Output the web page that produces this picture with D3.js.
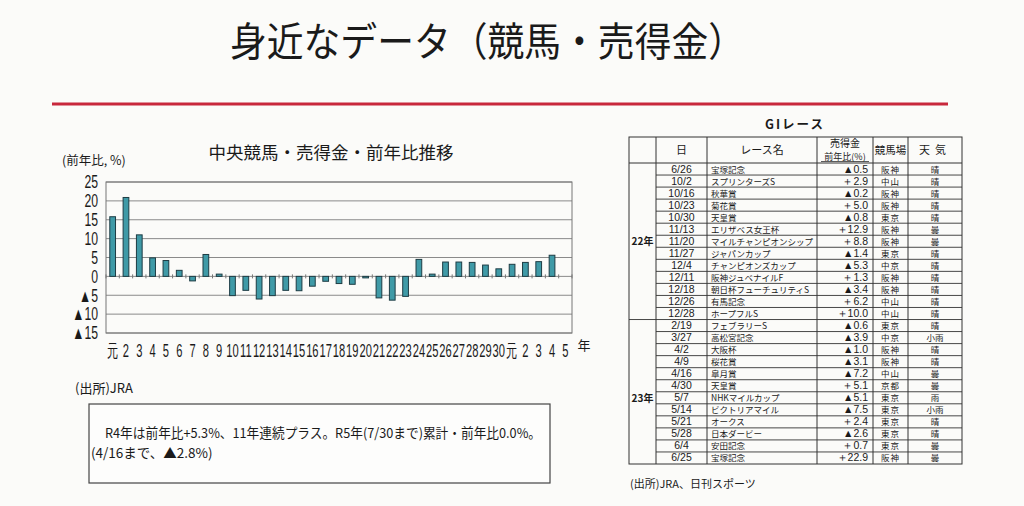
<!DOCTYPE html>
<html>
<head>
<meta charset="utf-8">
<script src="https://cdn.jsdelivr.net/npm/d3@7"></script>
<style>
  body { margin: 0; background: #fbfbf9; }
  svg { display: block; }
  text { font-family: "Noto Sans CJK JP", sans-serif; fill: #1a1a1a; }
  .num { font-family: "Liberation Sans", "DejaVu Sans", sans-serif; }
</style>
</head>
<body>
<svg id="page" width="1024" height="506"></svg>
<script>
// chart data: JRA year-on-year change of sales (%)
var yearLabels = ["元","2","3","4","5","6","7","8","9","10","11","12","13","14","15","16","17","18","19","20",
                  "21","22","23","24","25","26","27","28","29","30","元","2","3","4","5"];
var yoyValues = [15.8, 20.9, 11.0, 4.9, 4.2, 1.6, -1.2, 5.8, 0.6, -5.1, -3.7, -6.0, -5.1, -3.7, -3.8, -2.6, -1.3, -1.9, -2.1, -0.4,
                 -5.7, -6.3, -5.3, 4.5, 0.6, 3.8, 3.8, 3.7, 3.0, 2.0, 3.2, 3.7, 3.9, 5.6, null];
var yTicks = [-15, -10, -5, 0, 5, 10, 15, 20, 25];

// GI race table
var raceGroups = ["22年", "23年"];
var groupSizes = [13, 13];
var raceDates = ["6/26","10/2","10/16","10/23","10/30","11/13","11/20","11/27","12/4","12/11","12/18","12/26","12/28",
                 "2/19","3/27","4/2","4/9","4/16","4/30","5/7","5/14","5/21","5/28","6/4","6/25"];
var raceNames = ["宝塚記念","スプリンターズS","秋華賞","菊花賞","天皇賞","エリザベス女王杯","マイルチャンピオンシップ","ジャパンカップ",
                 "チャンピオンズカップ","阪神ジュベナイルF","朝日杯フューチュリティS","有馬記念","ホープフルS",
                 "フェブラリーS","高松宮記念","大阪杯","桜花賞","皐月賞","天皇賞","NHKマイルカップ","ビクトリアマイル",
                 "オークス","日本ダービー","安田記念","宝塚記念"];
var raceSales = [-0.5, 2.9, -0.2, 5.0, -0.8, 12.9, 8.8, -1.4, -5.3, 1.3, -3.4, 6.2, 10.0,
                 -0.6, -3.9, -1.0, -3.1, -7.2, 5.1, -5.1, -7.5, 2.4, -2.6, 0.7, 22.9];
var raceVenues = ["阪神","中山","阪神","阪神","東京","阪神","阪神","東京","中京","阪神","阪神","中山","中山",
                  "東京","中京","阪神","阪神","中山","京都","東京","東京","東京","東京","東京","阪神"];
var raceWeather = ["晴","晴","晴","晴","晴","曇","曇","晴","晴","晴","晴","晴","晴",
                   "晴","小雨","晴","晴","曇","曇","雨","小雨","晴","晴","曇","曇"];

var svg = d3.select("#page");

// page header
svg.append("text").attr("x", 230).attr("y", 56)
  .attr("font-size", 40).attr("textLength", 515).attr("lengthAdjust", "spacingAndGlyphs")
  .text("身近なデータ（競馬・売得金）");
svg.append("line").attr("x1", 52).attr("x2", 948).attr("y1", 104).attr("y2", 104)
  .attr("stroke", "#c8283c").attr("stroke-width", 3);

// ---- bar chart ----
var plot = {left: 106, right: 572, top: 182, bottom: 333};

var x = d3.scaleBand()
  .domain(d3.range(yearLabels.length))
  .range([plot.left, plot.right])
  .paddingInner(0.57).paddingOuter(0.285);
var y = d3.scaleLinear().domain([-15, 25]).range([plot.bottom, plot.top]);

svg.append("text").attr("x", (plot.left + plot.right) / 2 - 8).attr("y", 159)
  .attr("text-anchor", "middle").attr("font-size", 17.5)
  .text("中央競馬・売得金・前年比推移");
svg.append("text").attr("x", 62).attr("y", 165).attr("font-size", 12.5)
  .text("(前年比, %)");

var g = svg.append("g");

g.selectAll(".grid").data(yTicks).enter().append("line")
  .attr("x1", plot.left).attr("x2", plot.right)
  .attr("y1", function(d) { return y(d); }).attr("y2", function(d) { return y(d); })
  .attr("stroke", "#8a8a8a").attr("stroke-width", 1);

g.append("rect").attr("x", plot.left).attr("y", plot.top)
  .attr("width", plot.right - plot.left).attr("height", plot.bottom - plot.top)
  .attr("fill", "none").attr("stroke", "#777");

// small ticks on the zero line between categories
g.selectAll(".ztick").data(d3.range(yearLabels.length + 1)).enter().append("line")
  .attr("x1", function(i) { return plot.left + i * x.step(); })
  .attr("x2", function(i) { return plot.left + i * x.step(); })
  .attr("y1", y(0) - 2).attr("y2", y(0) + 2)
  .attr("stroke", "#777");

g.selectAll(".bar").data(yoyValues.map(function(v, i) { return [i, v]; })
    .filter(function(d) { return d[1] !== null; }))
  .enter().append("rect")
  .attr("x", function(d) { return x(d[0]); })
  .attr("y", function(d) { return y(Math.max(0, d[1])); })
  .attr("width", x.bandwidth())
  .attr("height", function(d) { return Math.abs(y(d[1]) - y(0)); })
  .attr("fill", "#3f9aa7").attr("stroke", "#1d3c44").attr("stroke-width", 1);

var xAxis = svg.append("g").attr("transform", "translate(0," + plot.bottom + ")")
  .call(d3.axisBottom(x).tickSize(0).tickPadding(0).tickFormat(function(i) { return yearLabels[i]; }));
xAxis.select(".domain").remove();
xAxis.selectAll("text")
  .attr("class", "num").attr("y", 24).attr("dy", 0)
  .attr("font-size", 18).attr("fill", "#1a1a1a")
  .attr("transform", "scale(0.62,1)")
  .attr("font-family", function(i) { return yearLabels[i] === "元" ? "Noto Sans CJK JP" : null; });
svg.append("text").attr("x", 584).attr("y", 350).attr("text-anchor", "middle")
  .attr("font-size", 13).text("年");

var yAxis = svg.append("g").attr("transform", "translate(" + (plot.left - 8) + ",0)")
  .call(d3.axisLeft(y).tickValues(yTicks).tickSize(0).tickPadding(0)
    .tickFormat(function(d) { return d < 0 ? "▲" + (-d) : d; }));
yAxis.select(".domain").remove();
yAxis.selectAll("text").attr("class", "num")
  .attr("font-size", 18).attr("fill", "#1a1a1a").attr("transform", "scale(0.68,1)");

svg.append("text").attr("x", 75).attr("y", 393).attr("font-size", 13).text("(出所)JRA");

// note box
svg.append("rect").attr("x", 89).attr("y", 404).attr("width", 461).attr("height", 79)
  .attr("fill", "#fdfdfc").attr("stroke", "#444").attr("stroke-width", 1.2);
svg.append("text").attr("x", 105).attr("y", 438).attr("font-size", 13.5)
  .attr("textLength", 436).attr("lengthAdjust", "spacingAndGlyphs")
  .text("R4年は前年比+5.3%、11年連続プラス。R5年(7/30まで)累計・前年比0.0%。");
svg.append("text").attr("x", 91).attr("y", 458).attr("font-size", 13.5)
  .text("(4/16まで、▲2.8%)");

// ---- GI race table ----
var cols = [629, 656, 707, 817, 873, 908, 962];
var tTop = 137, headBottom = 163, rowH = 12.04;
var rowY = function(i) { return headBottom + i * rowH; };
var nRows = raceDates.length;
var tBottom = rowY(nRows);
var tbl = svg.append("g");

svg.append("text").attr("x", 795).attr("y", 129).attr("text-anchor", "middle")
  .attr("font-size", 12.5).attr("font-weight", 700).attr("letter-spacing", 2).text("GIレース");

tbl.append("rect").attr("x", cols[0]).attr("y", tTop)
  .attr("width", cols[6] - cols[0]).attr("height", tBottom - tTop)
  .attr("fill", "none").attr("stroke", "#333");
tbl.selectAll(".vline").data(cols.slice(1, 6)).enter().append("line")
  .attr("x1", function(d) { return d; }).attr("x2", function(d) { return d; })
  .attr("y1", tTop).attr("y2", tBottom).attr("stroke", "#333");
tbl.append("line").attr("x1", cols[0]).attr("x2", cols[6])
  .attr("y1", headBottom).attr("y2", headBottom).attr("stroke", "#333");
tbl.selectAll(".hline").data(d3.range(1, nRows)).enter().append("line")
  .attr("x1", function(i) { return i === groupSizes[0] ? cols[0] : cols[1]; }).attr("x2", cols[6])
  .attr("y1", function(i) { return rowY(i); }).attr("y2", function(i) { return rowY(i); })
  .attr("stroke", "#333").attr("stroke-width", 0.9);

// header cells
var hy = (tTop + headBottom) / 2 + 4;
tbl.append("text").attr("x", (cols[1] + cols[2]) / 2).attr("y", hy).attr("text-anchor", "middle")
  .attr("font-size", 11).text("日");
tbl.append("text").attr("x", (cols[2] + cols[3]) / 2).attr("y", hy).attr("text-anchor", "middle")
  .attr("font-size", 11).text("レース名");
tbl.append("text").attr("x", (cols[3] + cols[4]) / 2).attr("y", 147).attr("text-anchor", "middle")
  .attr("font-size", 10).text("売得金");
tbl.append("text").attr("x", (cols[3] + cols[4]) / 2).attr("y", 159.5).attr("text-anchor", "middle")
  .attr("font-size", 9).text("前年比(%)");
tbl.append("line").attr("x1", cols[3] + 4).attr("x2", cols[4] - 4).attr("y1", 161.5).attr("y2", 161.5)
  .attr("stroke", "#333").attr("stroke-width", 0.8);
tbl.append("text").attr("x", (cols[4] + cols[5]) / 2).attr("y", hy).attr("text-anchor", "middle")
  .attr("font-size", 10.5).text("競馬場");
tbl.append("text").attr("x", (cols[5] + cols[6]) / 2).attr("y", hy).attr("text-anchor", "middle")
  .attr("font-size", 11).attr("letter-spacing", 5).text("天気");

// group labels
var start = 0;
raceGroups.forEach(function(name, k) {
  var mid = (rowY(start) + rowY(start + groupSizes[k])) / 2;
  tbl.append("text").attr("x", (cols[0] + cols[1]) / 2).attr("y", mid + 4)
    .attr("text-anchor", "middle").attr("font-size", 10).attr("font-weight", 700).text(name);
  start += groupSizes[k];
});

var rows = tbl.selectAll(".row").data(d3.range(nRows)).enter().append("g")
  .attr("transform", function(i) { return "translate(0," + (rowY(i) + rowH / 2 + 3.5) + ")"; });
rows.append("text").attr("x", (cols[1] + cols[2]) / 2).attr("text-anchor", "middle")
  .attr("font-size", 10.5).attr("class", "num").text(function(i) { return raceDates[i]; });
rows.append("text").attr("x", cols[2] + 4).attr("font-size", 8.5)
  .text(function(i) { return raceNames[i]; });
rows.append("text").attr("x", cols[4] - 5).attr("text-anchor", "end")
  .attr("font-size", 10.5).attr("class", "num")
  .text(function(i) { var v = raceSales[i]; return (v < 0 ? "▲" : "＋") + Math.abs(v).toFixed(1); });
rows.append("text").attr("x", (cols[4] + cols[5]) / 2).attr("text-anchor", "middle")
  .attr("font-size", 8.5).attr("letter-spacing", 1).text(function(i) { return raceVenues[i]; });
rows.append("text").attr("x", (cols[5] + cols[6]) / 2).attr("text-anchor", "middle")
  .attr("font-size", 8.5).text(function(i) { return raceWeather[i]; });

svg.append("text").attr("x", 630).attr("y", 488).attr("font-size", 11).text("(出所)JRA、日刊スポーツ");
</script>
</body>
</html>
